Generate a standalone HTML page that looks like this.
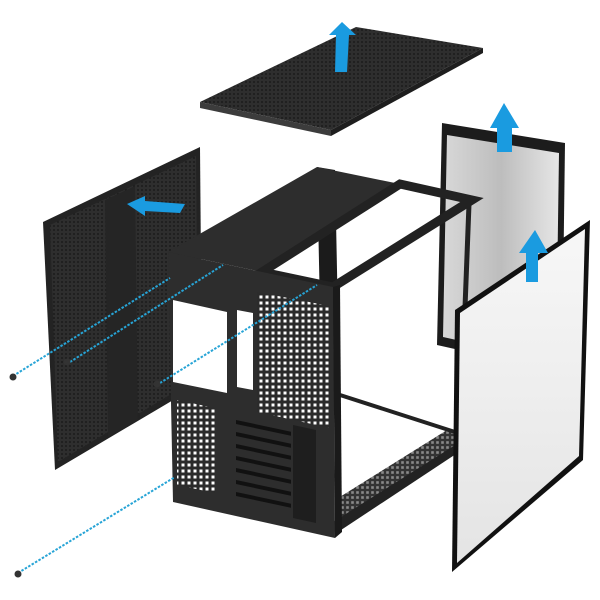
<!DOCTYPE html>
<html><head><meta charset="utf-8"><style>html,body{margin:0;padding:0;background:#fff}svg{display:block}</style></head>
<body>
<svg width="600" height="600" viewBox="0 0 600 600" xmlns="http://www.w3.org/2000/svg">
<defs>
<pattern id="mesh" width="4" height="4" patternUnits="userSpaceOnUse"><rect width="4" height="4" fill="#2e2e2e"/><circle cx="2" cy="2" r="0.9" fill="#151515"/></pattern>
<pattern id="holes" width="6" height="6" patternUnits="userSpaceOnUse"><rect width="6" height="6" fill="#2b2b2b"/><rect x="1.5" y="1.5" width="3" height="3" fill="#fff"/></pattern>
<pattern id="holesd" width="5" height="5" patternUnits="userSpaceOnUse"><rect width="5" height="5" fill="#333"/><rect x="1.2" y="1.2" width="2.6" height="2.6" fill="#8a8a8a"/></pattern>
<linearGradient id="glass" x1="0" y1="0" x2="1" y2="0"><stop offset="0" stop-color="#d8d8d8"/><stop offset="0.5" stop-color="#bdbdbd"/><stop offset="1" stop-color="#e6e6e6"/></linearGradient>
<linearGradient id="glass2" x1="0" y1="0" x2="0" y2="1"><stop offset="0" stop-color="#f7f7f7"/><stop offset="1" stop-color="#e4e4e4"/></linearGradient>
</defs>

<!-- top panel -->
<polygon points="200,102 356,27 483,48 331,130" fill="url(#mesh)"/>
<polygon points="200,102 331,130 331,136 200,108" fill="#3c3c3c"/>
<polygon points="331,130 483,48 483,53 331,136" fill="#1e1e1e"/>
<polygon points="329,35 342,22 356,35 349,35 347,72 335,72 336,35" fill="#1a9be0"/>

<!-- left mesh panel -->
<polygon points="43,222 200,147 202,383 55,470" fill="#232323"/>
<polygon points="50,225 196,156 198,378 58,462" fill="url(#mesh)"/>
<polygon points="105,200 135,186 138,420 108,437" fill="#252525"/>
<polygon points="127,204 145,196 145,201 185,204 180,213 145,211 145,216" fill="#1a9be0"/>

<!-- back window panel -->
<polygon points="442,123 565,143 562,373 437,345" fill="#1c1c1c"/>
<polygon points="447,135 559,153 556,362 443,337" fill="url(#glass)"/>
<polygon points="490,128 504,103 519,128 512,128 512,152 497,152 497,128" fill="#1a9be0"/>

<!-- case -->
<polygon points="317,167 335,170 340,420 322,405" fill="#1b1b1b"/>
<polygon points="168,252 317,167 400,184 262,272" fill="#2d2d2d"/>
<polygon points="262,272 400,184 472,200 333,287" fill="none" stroke="#222" stroke-width="9"/>
<line x1="469" y1="204" x2="460" y2="437" stroke="#222" stroke-width="5"/>
<polygon points="335,500 447,430 462,436 460,448 337,530" fill="url(#holesd)"/>
<polygon points="333,522 460,442 462,450 335,534" fill="#222"/>
<line x1="340" y1="395" x2="455" y2="432" stroke="#222" stroke-width="4"/>
<polygon points="168,252 333,287 335,538 173,502" fill="#2d2d2d"/>
<polygon points="333,287 340,285 342,532 335,538" fill="#1a1a1a"/>
<polygon points="173,300 227,312 227,393 173,382" fill="#fff"/>
<polygon points="237,310 253,313 253,390 237,387" fill="#fff"/>
<polygon points="257,292 330,306 330,428 257,412" fill="url(#holes)"/>
<polygon points="177,400 215,408 215,493 177,485" fill="url(#holes)"/>
<g fill="#111">
<rect x="236" y="420" width="55" height="4" transform="skewY(12)" transform-origin="236 420"/>
<rect x="236" y="432" width="55" height="4" transform="skewY(12)" transform-origin="236 432"/>
<rect x="236" y="444" width="55" height="4" transform="skewY(12)" transform-origin="236 444"/>
<rect x="236" y="456" width="55" height="4" transform="skewY(12)" transform-origin="236 456"/>
<rect x="236" y="468" width="55" height="4" transform="skewY(12)" transform-origin="236 468"/>
<rect x="236" y="480" width="55" height="4" transform="skewY(12)" transform-origin="236 480"/>
<rect x="236" y="492" width="55" height="4" transform="skewY(12)" transform-origin="236 492"/>
</g>
<polygon points="293,425 316,430 316,523 293,518" fill="#1e1e1e"/>

<!-- dashed lines -->
<g stroke="#27a4d6" stroke-width="2" stroke-dasharray="2.5,1.5" fill="none">
<line x1="13" y1="376" x2="170" y2="278"/>
<line x1="70" y1="362" x2="223" y2="265"/>
<line x1="160" y1="383" x2="317" y2="285"/>
<line x1="18" y1="573" x2="175" y2="477"/>
</g>
<g fill="#333"><circle cx="13" cy="377" r="3.5"/><circle cx="18" cy="574" r="3.5"/><circle cx="67" cy="362" r="3.5"/><circle cx="157" cy="384" r="3.5"/></g>

<!-- front glass panel -->
<polygon points="455,310 590,220 583,460 452,572" fill="#111"/>
<polygon points="460,313 585,229 579,456 457,563" fill="url(#glass2)"/>
<polygon points="519,253 535,230 548,253 538,253 538,282 526,282 526,253" fill="#1a9be0"/>
</svg>
</body></html>
